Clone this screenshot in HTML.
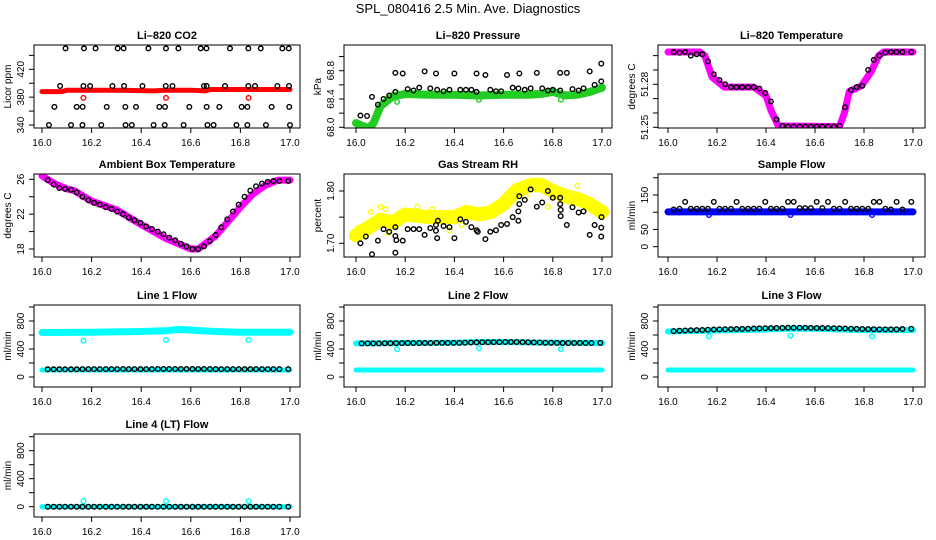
<!DOCTYPE html>
<html><head><meta charset="utf-8"><style>
html,body{margin:0;padding:0;background:#fff;}
svg{display:block;font-family:"Liberation Sans",Arial,sans-serif;}
</style></head><body>
<svg id="chart" width="936" height="540" viewBox="0 0 936 540" xmlns="http://www.w3.org/2000/svg">
<rect width="936" height="540" fill="#fff"/>
<text x="468" y="13" text-anchor="middle" font-size="13">SPL_080416  2.5 Min. Ave. Diagnostics</text>
</svg>
<script>
// shared time grid (hours)
const T = [16.023,16.047,16.070,16.093,16.117,16.140,16.163,16.187,16.210,16.233,16.257,16.280,16.303,16.327,16.350,16.373,16.397,16.420,16.443,16.467,16.490,16.513,16.537,16.560,16.583,16.607,16.630,16.653,16.677,16.700,16.723,16.747,16.770,16.793,16.817,16.840,16.863,16.887,16.910,16.933,16.957,16.993];
const xTicks = [16.0,16.2,16.4,16.6,16.8,17.0];
const xTickLabels = ["16.0","16.2","16.4","16.6","16.8","17.0"];
const outlierX = [16.167,16.5,16.833];

// CO2
const co2BandX = [16.0,16.08,16.1,16.3,16.45,16.5,16.6,16.66,16.68,17.0];
const co2BandY = [388,388,390,390,389,390,390,389,391,391];
const co2OutY = [379,379,379];
const co2BlackX = [16.095,16.169,16.216,16.305,16.329,16.429,16.5,16.55,16.64,16.663,16.758,16.832,16.882,16.969,16.995,
 16.073,16.167,16.194,16.284,16.331,16.405,16.499,16.526,16.653,16.664,16.738,16.832,16.859,16.949,16.996,
 16.05,16.14,16.164,16.261,16.336,16.379,16.473,16.496,16.594,16.664,16.715,16.805,16.828,16.926,16.997,
 16.028,16.117,16.163,16.239,16.337,16.362,16.45,16.495,16.571,16.667,16.692,16.784,16.828,16.903,17.0];
const co2BlackY = [450,450,450,450,450,450,450,450,450,450,450,450,450,450,450,
 396,396,396,396,396,396,396,396,396,396,396,396,396,396,396,
 366,366,366,366,366,366,366,366,366,366,366,366,366,366,366,
 340,340,340,340,340,340,340,340,340,340,340,340,340,340,340];

// Pressure
const presBandX = [16.0,16.02,16.05,16.07,16.1,16.15,16.2,16.3,16.4,16.5,16.6,16.7,16.75,16.8,16.85,16.9,16.95,17.0];
const presBandY = [68.06,68.03,67.99,68.05,68.3,68.44,68.47,68.46,68.46,68.45,68.46,68.46,68.47,68.5,68.45,68.46,68.5,68.56];
const presOutY = [68.36,68.39,68.39];
const presBlackX = [16.018,16.045,16.065,16.089,16.112,16.135,16.16,16.16,16.19,16.21,16.234,16.257,16.279,16.302,16.325,16.33,16.356,16.38,16.40,16.424,16.447,16.469,16.49,16.49,16.526,16.546,16.569,16.59,16.614,16.637,16.66,16.664,16.686,16.71,16.735,16.757,16.78,16.80,16.83,16.83,16.857,16.88,16.905,16.925,16.95,16.97,16.997,16.997];
const presBlackY = [68.166,68.16,68.43,68.32,68.40,68.45,68.50,68.77,68.76,68.54,68.52,68.56,68.79,68.55,68.76,68.53,68.51,68.53,68.76,68.53,68.53,68.53,68.76,68.50,68.74,68.53,68.51,68.51,68.74,68.56,68.55,68.76,68.53,68.55,68.77,68.55,68.52,68.53,68.77,68.52,68.77,68.54,68.52,68.55,68.79,68.60,68.65,68.90];

// Li-820 temperature
const tempBandX = [16.0,16.13,16.15,16.18,16.23,16.35,16.4,16.42,16.45,16.7,16.72,16.74,16.79,16.83,16.86,16.88,17.0];
const tempBandY = [51.3025,51.3025,51.300,51.285,51.278,51.278,51.272,51.262,51.251,51.2505,51.26,51.275,51.279,51.289,51.300,51.3025,51.3025];
const tempBlackY = [51.3025,51.302,51.3025,51.300,51.301,51.301,51.296,51.287,51.283,51.280,51.278,51.278,51.278,51.278,51.278,51.277,51.274,51.268,51.2555,51.251,51.2505,51.2505,51.2505,51.2505,51.2505,51.2505,51.2505,51.2505,51.2505,51.251,51.264,51.276,51.278,51.279,51.290,51.297,51.300,51.302,51.3025,51.3025,51.3025,51.3025];

// Ambient box temperature
const ambBandX = [16.0,16.05,16.1,16.13,16.2,16.3,16.4,16.5,16.6,16.63,16.7,16.8,16.85,16.9,16.95,17.0];
const ambBandY = [26.4,25.5,24.9,24.7,23.5,22.5,20.8,19.2,18.0,18.0,19.5,22.8,24.3,25.3,25.9,25.9];
const ambBlackY = [25.9,25.4,25.0,24.9,24.8,24.5,24.0,23.6,23.3,23.1,22.8,22.6,22.3,22.0,21.6,21.3,21.0,20.6,20.3,20.0,19.7,19.3,19.0,18.6,18.3,18.0,18.0,18.3,18.9,19.6,20.5,21.4,22.3,23.1,24.0,24.7,25.2,25.5,25.7,25.8,25.8,25.8];

// Gas stream RH
const rhBandX = [16.0,16.05,16.1,16.15,16.2,16.3,16.4,16.45,16.5,16.55,16.6,16.65,16.7,16.75,16.8,16.85,16.9,16.95,17.0];
const rhBandY = [1.715,1.73,1.745,1.74,1.755,1.75,1.75,1.76,1.755,1.76,1.775,1.80,1.81,1.812,1.80,1.79,1.785,1.775,1.76];
const rhYellowX = [16.01,16.06,16.1,16.12,16.18,16.25,16.31,16.43,16.52,16.58,16.65,16.72,16.78,16.85,16.9,16.96,16.13,16.38,16.69];
const rhYellowY = [1.73,1.76,1.77,1.765,1.74,1.77,1.765,1.735,1.76,1.765,1.81,1.82,1.77,1.80,1.81,1.775,1.72,1.725,1.79];
const rhBlackX = [16.018,16.04,16.065,16.089,16.112,16.135,16.16,16.16,16.164,16.16,16.19,16.21,16.234,16.257,16.279,16.302,16.325,16.325,16.33,16.333,16.356,16.38,16.40,16.424,16.447,16.469,16.49,16.495,16.526,16.546,16.569,16.59,16.614,16.637,16.66,16.66,16.664,16.664,16.686,16.71,16.735,16.757,16.78,16.80,16.83,16.83,16.832,16.832,16.857,16.88,16.905,16.925,16.95,16.97,16.997,16.997,16.998];
const rhBlackY = [1.70,1.713,1.679,1.705,1.727,1.722,1.731,1.714,1.706,1.682,1.705,1.727,1.727,1.727,1.716,1.729,1.735,1.724,1.71,1.743,1.733,1.731,1.71,1.746,1.741,1.731,1.725,1.722,1.708,1.722,1.725,1.735,1.737,1.75,1.761,1.743,1.775,1.79,1.783,1.803,1.77,1.778,1.80,1.787,1.787,1.775,1.764,1.752,1.735,1.769,1.759,1.761,1.716,1.735,1.73,1.713,1.75];

// Sample flow
const sfBandX = [16.0,17.0];
const sfBandY = [101,101];
const sfOutY = [92,92,92];
const sfBlackY = [108,110,130,110,110,110,110,130,110,110,110,130,110,110,110,110,130,110,110,110,130,130,112,112,112,130,112,130,110,110,130,110,110,110,110,130,130,110,108,130,108,130];

// Line flows
const l1HighX = [16.0,16.2,16.4,16.5,16.55,16.6,16.7,16.8,17.0];
const l1HighY = [635,640,650,660,680,670,650,640,640];
const l1LowY = [100,100];
const l1OutY = [520,530,530];
const l1BlackY = [110,110,110,110,110,110,112,112,112,112,112,112,112,115,112,112,112,112,112,115,115,115,115,115,115,115,115,115,115,112,112,112,112,112,112,112,112,112,112,112,112,112];
const l2HighX = [16.0,16.2,16.4,16.5,16.6,16.8,17.0];
const l2HighY = [480,485,490,500,500,490,485];
const l2LowY = [100,100];
const l2OutY = [396,410,396];
const l2BlackY = [480,480,480,480,482,482,484,484,486,486,486,486,486,488,488,488,488,488,490,492,494,496,496,498,498,500,500,500,498,496,494,492,490,490,488,486,486,486,486,486,486,488];
const l3HighX = [16.0,16.2,16.4,16.5,16.6,16.8,17.0];
const l3HighY = [650,665,680,690,690,670,670];
const l3LowY = [100,100];
const l3OutY = [580,590,580];
const l3BlackY = [655,660,665,668,670,672,675,678,680,682,684,686,688,690,692,694,696,698,700,702,704,704,704,704,702,700,700,698,696,694,692,690,688,686,684,682,681,680,680,680,685,690];
const l4BandY = [0,0];
const l4OutY = [80,80,80];
const l4BlackY = [0,0,0,0,0,0,0,0,0,0,0,0,0,0,0,0,0,0,0,0,0,0,0,0,0,0,0,0,0,0,0,0,0,0,0,0,0,0,0,0,0,0];

const NS = "http://www.w3.org/2000/svg";
const svg = document.getElementById("chart");
function mk(tag, attrs, parent) {
  const e = document.createElementNS(NS, tag);
  for (const k in attrs) e.setAttribute(k, attrs[k]);
  (parent || svg).appendChild(e);
  return e;
}
const cols = [{l:34,r:300,x0:42,x1:290},{l:344,r:612,x0:356,x1:602},{l:658,r:925,x0:668,x1:913}];
const rows = [{t:45,b:128},{t:174,b:257},{t:305,b:387},{t:434,b:517}];

function panel(p) {
  const c = cols[p.col], r = rows[p.row];
  const g = mk("g", {});
  
  
  const xs = v => c.x0 + (v - 16) * (c.x1 - c.x0);
  const ys = v => p.y0p + (v - p.y0) * (p.y1p - p.y0p) / (p.y1 - p.y0);
  const clipId = "clip-" + p.name;
  const cp = mk("clipPath", {id: clipId}, g);
  mk("rect", {x:c.l, y:r.t, width:c.r-c.l, height:r.b-r.t}, cp);
  const data = mk("g", {"clip-path": "url(#" + clipId + ")"}, g);
  
  
  p.draw(data, xs, ys);
  // box
  const box = mk("rect", {x:c.l, y:r.t, width:c.r-c.l, height:r.b-r.t, fill:"none", stroke:"#000", "stroke-width":1}, g);
  
  
  // title
  const tt = mk("text", {x:(c.l+c.r)/2, y:r.t-6, "text-anchor":"middle", "font-size":11, "font-weight":"bold"}, g);
  tt.textContent = p.title;
  
  
  // x axis
  xTicks.forEach((v, i) => {
    const x = xs(v);
    mk("line", {x1:x, x2:x, y1:r.b, y2:r.b+5, stroke:"#000"}, g);
    const t = mk("text", {x:x, y:r.b+18, "text-anchor":"middle", "font-size":10}, g);
    t.textContent = xTickLabels[i];
    
    
  });
  mk("line", {x1:xs(16), x2:xs(17), y1:r.b, y2:r.b, stroke:"#000"}, g);
  // y axis
  p.yTicks.forEach(v => {
    const y = ys(v);
    mk("line", {x1:c.l-5, x2:c.l, y1:y, y2:y, stroke:"#000"}, g);
  });
  mk("line", {x1:c.l, x2:c.l, y1:ys(p.yTicks[0]), y2:ys(p.yTicks[p.yTicks.length-1]), stroke:"#000"}, g);
  p.yLabels.forEach(v => {
    const y = ys(v);
    const t = mk("text", {x:c.l-10, y:y, "text-anchor":"middle", "font-size":10, transform:"rotate(-90 " + (c.l-10) + " " + y + ")"}, g);
    t.textContent = p.fmt(v);
    
    
  });
  const ym = (r.t + r.b) / 2;
  const yt = mk("text", {x:c.l-23, y:ym, "text-anchor":"middle", "font-size":10, transform:"rotate(-90 " + (c.l-23) + " " + ym + ")"}, g);
  yt.textContent = p.ylab;
  
  
}
function band(g, X, Y, xs, ys, color, w, name) {
  const pl = mk("polyline", {points: X.map((x, i) => xs(x) + "," + ys(Y[i])).join(" "), fill:"none", stroke:color, "stroke-width":w, "stroke-linejoin":"round", "stroke-linecap":"round"}, g);
  
  
}
function pts(g, X, Y, xs, ys, color, name) {
  X.forEach((x, i) => {
    const c = mk("circle", {cx:xs(x), cy:ys(Y[i]), r:2.3, fill:"none", stroke:color, "stroke-width":1.4}, g);
    
    
  });
}
const flowTicks = [0,200,400,600,800,1000];
const flowLabels = [0,400,800];
const ends = [16.0,17.0];

panel({name:"co2-panel", title:"Li\u2013820 CO2", ylab:"Licor ppm", col:0, row:0, y0:340, y0p:125, y1:420, y1p:69.3,
  yTicks:[340,360,380,400,420,440], yLabels:[340,380,420], fmt:v=>String(v),
  draw:(g,xs,ys)=>{ band(g,co2BandX,co2BandY,xs,ys,"#ff0000",5,"co2-series"); pts(g,outlierX,co2OutY,xs,ys,"#ff0000","co2-outlier"); pts(g,co2BlackX,co2BlackY,xs,ys,"#000","co2-average-point"); }});
panel({name:"pressure-panel", title:"Li\u2013820 Pressure", ylab:"kPa", col:1, row:0, y0:68.0, y0p:127.3, y1:68.8, y1p:70.7,
  yTicks:[68.0,68.2,68.4,68.6,68.8,69.0], yLabels:[68.0,68.4,68.8], fmt:v=>v.toFixed(1),
  draw:(g,xs,ys)=>{ band(g,presBandX,presBandY,xs,ys,"#22cc22",8,"pressure-series"); pts(g,outlierX,presOutY,xs,ys,"#22cc22","pressure-outlier"); pts(g,presBlackX,presBlackY,xs,ys,"#000","pressure-average-point"); }});
panel({name:"li820-temp-panel", title:"Li\u2013820 Temperature", ylab:"degrees C", col:2, row:0, y0:51.25, y0p:127.3, y1:51.28, y1p:84.3,
  yTicks:[51.25,51.26,51.27,51.28,51.29,51.30], yLabels:[51.25,51.28], fmt:v=>v.toFixed(2),
  draw:(g,xs,ys)=>{ band(g,tempBandX,tempBandY,xs,ys,"#ff00ff",7,"temp-series"); pts(g,T,tempBlackY,xs,ys,"#000","temp-average-point"); }});
panel({name:"ambient-temp-panel", title:"Ambient Box Temperature", ylab:"degrees C", col:0, row:1, y0:18, y0p:249, y1:26, y1p:179.3,
  yTicks:[18,20,22,24,26], yLabels:[18,22,26], fmt:v=>String(v),
  draw:(g,xs,ys)=>{ band(g,ambBandX,ambBandY,xs,ys,"#ff00ff",7,"ambient-series"); pts(g,T,ambBlackY,xs,ys,"#000","ambient-average-point"); }});
panel({name:"rh-panel", title:"Gas Stream RH", ylab:"percent", col:1, row:1, y0:1.70, y0p:243.3, y1:1.80, y1p:191,
  yTicks:[1.70,1.75,1.80], yLabels:[1.70,1.80], fmt:v=>v.toFixed(2),
  draw:(g,xs,ys)=>{ band(g,rhBandX,rhBandY,xs,ys,"#ffff00",14,"rh-series"); pts(g,rhYellowX,rhYellowY,xs,ys,"#ffff00","rh-scatter"); pts(g,rhBlackX,rhBlackY,xs,ys,"#000","rh-average-point"); }});
panel({name:"sample-flow-panel", title:"Sample Flow", ylab:"ml/min", col:2, row:1, y0:0, y0p:246.7, y1:150, y1p:195,
  yTicks:[0,50,100,150,200], yLabels:[0,50,150], fmt:v=>String(v),
  draw:(g,xs,ys)=>{ band(g,sfBandX,sfBandY,xs,ys,"#0000ff",7,"sample-flow-series"); pts(g,outlierX,sfOutY,xs,ys,"#0000ff","sample-flow-outlier"); pts(g,T,sfBlackY,xs,ys,"#000","sample-flow-average-point"); }});
panel({name:"line1-flow-panel", title:"Line 1 Flow", ylab:"ml/min", col:0, row:2, y0:0, y0p:377, y1:800, y1p:321,
  yTicks:flowTicks, yLabels:flowLabels, fmt:v=>String(v),
  draw:(g,xs,ys)=>{ band(g,l1HighX,l1HighY,xs,ys,"#00ffff",7,"line1-high-series"); band(g,ends,l1LowY,xs,ys,"#00ffff",5,"line1-low-series"); pts(g,outlierX,l1OutY,xs,ys,"#00ffff","line1-outlier"); pts(g,T,l1BlackY,xs,ys,"#000","line1-average-point"); }});
panel({name:"line2-flow-panel", title:"Line 2 Flow", ylab:"ml/min", col:1, row:2, y0:0, y0p:377, y1:800, y1p:321,
  yTicks:flowTicks, yLabels:flowLabels, fmt:v=>String(v),
  draw:(g,xs,ys)=>{ band(g,l2HighX,l2HighY,xs,ys,"#00ffff",6,"line2-high-series"); band(g,ends,l2LowY,xs,ys,"#00ffff",5,"line2-low-series"); pts(g,outlierX,l2OutY,xs,ys,"#00ffff","line2-outlier"); pts(g,T,l2BlackY,xs,ys,"#000","line2-average-point"); }});
panel({name:"line3-flow-panel", title:"Line 3 Flow", ylab:"ml/min", col:2, row:2, y0:0, y0p:377, y1:800, y1p:321,
  yTicks:flowTicks, yLabels:flowLabels, fmt:v=>String(v),
  draw:(g,xs,ys)=>{ band(g,l3HighX,l3HighY,xs,ys,"#00ffff",6,"line3-high-series"); band(g,ends,l3LowY,xs,ys,"#00ffff",5,"line3-low-series"); pts(g,outlierX,l3OutY,xs,ys,"#00ffff","line3-outlier"); pts(g,T,l3BlackY,xs,ys,"#000","line3-average-point"); }});
panel({name:"line4-flow-panel", title:"Line 4 (LT) Flow", ylab:"ml/min", col:0, row:3, y0:0, y0p:506.7, y1:800, y1p:450.7,
  yTicks:flowTicks, yLabels:flowLabels, fmt:v=>String(v),
  draw:(g,xs,ys)=>{ band(g,ends,l4BandY,xs,ys,"#00ffff",5,"line4-series"); pts(g,outlierX,l4OutY,xs,ys,"#00ffff","line4-outlier"); pts(g,T,l4BlackY,xs,ys,"#000","line4-average-point"); }});
</script>
</body></html>
